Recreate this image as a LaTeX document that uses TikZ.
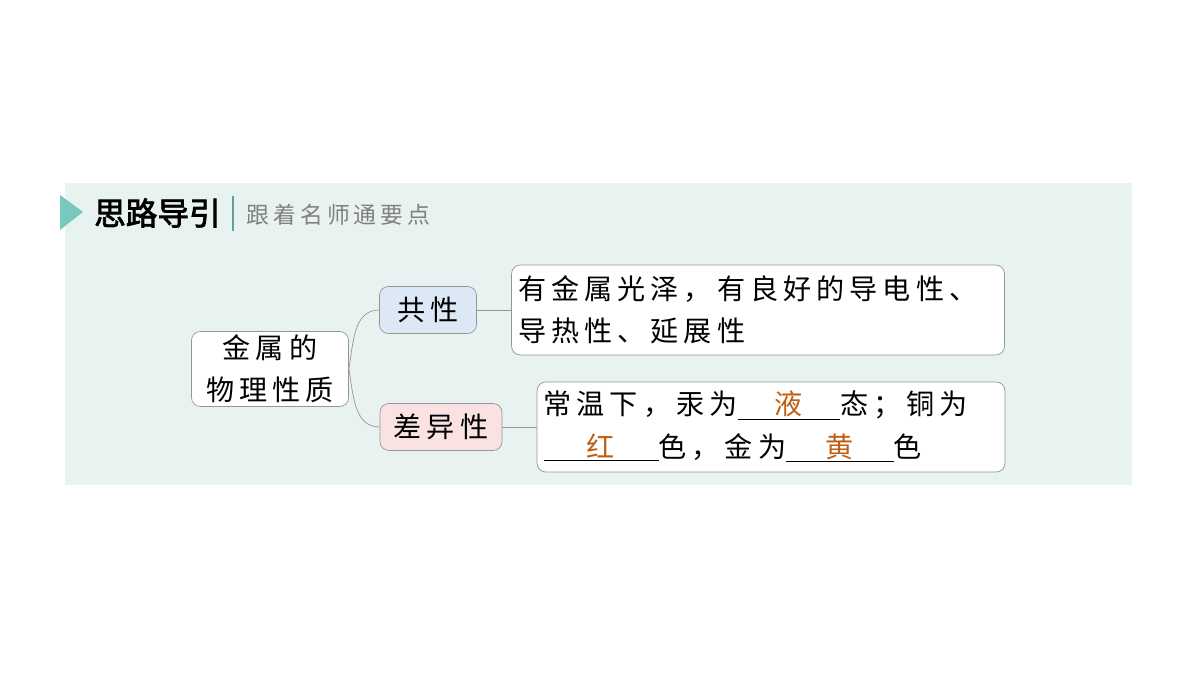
\documentclass[tikz,border=0pt]{standalone}
\usepackage{fontspec}
\setmainfont{Noto Sans CJK SC}[LetterSpace=18]
\newfontfamily\cjkbold{Noto Sans CJK SC}[FakeBold=2.5,LetterSpace=0]
\usetikzlibrary{positioning}
\definecolor{bgteal}{RGB}{232,243,241}
\definecolor{markteal}{RGB}{120,200,190}
\definecolor{linegray}{RGB}{150,150,150}
\definecolor{ansbrown}{RGB}{190,95,20}
\definecolor{gongblue}{RGB}{220,232,245}
\definecolor{chapink}{RGB}{250,226,226}
\newcommand{\fillin}[2]{\underline{\makebox[#1]{\color{ansbrown}#2}}}
\begin{document}
\begin{tikzpicture}[x=0.02cm,y=-0.02cm,
                box/.style={draw=linegray, rounded corners=5pt, fill=white, font=\fontsize{16}{24}\selectfont, inner sep=0pt, align=center},
                leaf/.style={box, align=left, minimum height=1.8cm},
                link/.style={draw=linegray, thin}
            ]
            \useasboundingbox (0,0) rectangle (1200,675);
            \fill[bgteal] (65,183) rectangle (1132,485);

            % heading
            \fill[markteal] (60,195) -- (83,212) -- (60,230) -- cycle;
            \node[anchor=west, font=\cjkbold\fontsize{18}{20}\selectfont] (head) at (88,213) {思路导引};
            \draw[markteal!80!black, thick] (233,196) -- (233,231);
            \node[anchor=west, text=gray, font=\fontsize{13}{16}\selectfont] (subhead) at (240,215) {跟着名师通要点};

            \node[box, minimum width=3.14cm, minimum height=1.5cm] (metal) at (270,369) {金属的\\物理性质};

            \node[box, fill=gongblue, minimum width=1.94cm, minimum height=0.94cm] (common) at (428,310) {共性};

            \node[box, fill=chapink, minimum width=2.44cm, minimum height=0.94cm] (differ) at (441,427) {差异性};

            \node[leaf, minimum width=9.86cm, text width=9.6cm] (common-txt) at (758,310)
                {有金属光泽，有良好的导电性、\\导热性、延展性};

            \node[leaf, minimum width=9.36cm, text width=9.1cm] (differ-txt) at (771,427)
                {常温下，汞为\fillin{2.05cm}{液}态；铜为\\\fillin{2.3cm}{红}色，金为\fillin{2.15cm}{黄}色};

            \draw[link] (metal.east) to[out=80, in=180] (common.west);
            \draw[link] (metal.east) to[out=-80, in=180] (differ.west);
            \draw[link] (common) -- (common-txt);
            \draw[link] (differ) -- (differ-txt);

        \end{tikzpicture}
\end{document}
